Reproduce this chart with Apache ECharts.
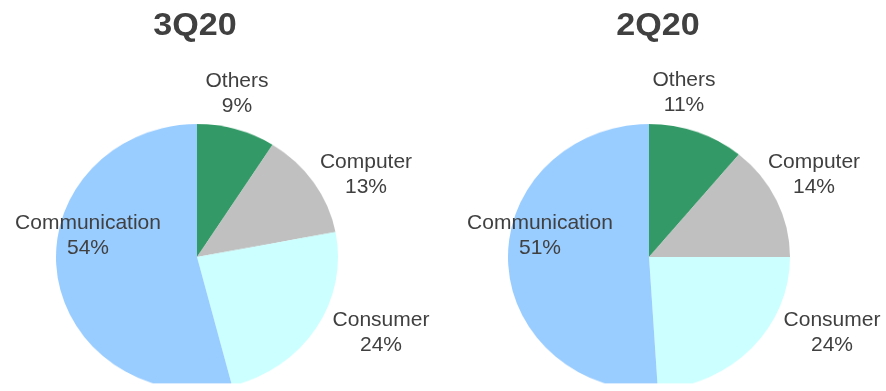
<!DOCTYPE html>
<html>
<head>
<meta charset="utf-8">
<script src="https://cdn.jsdelivr.net/npm/echarts@6/dist/echarts.min.js"></script>
<style>
  html, body { margin: 0; padding: 0; background: #ffffff; }
  #wrap { position: relative; width: 886px; height: 391px; overflow: hidden; }
  /* pies are drawn slightly flattened, as ellipses */
  #pies { position: absolute; left: 0; top: 0; width: 886px; height: 391px;
          transform: scaleY(0.943); transform-origin: 0 257px; }
  #texts { position: absolute; left: 0; top: 0; width: 886px; height: 391px; }
</style>
</head>
<body>
<div id="wrap">
  <div id="pies"></div>
  <div id="texts"></div>
</div>
<script>
// Revenue mix by application
const periods = ['3Q20', '2Q20'];
const categories = ['Others', 'Computer', 'Consumer', 'Communication'];
const share3Q20 = [9, 13, 24, 54];
const share2Q20 = [11, 14, 24, 51];

const sliceColors = ['#339966', '#c0c0c0', '#ccffff', '#99ccff'];
const pieCenters = [[197, 257], [649, 257]];
const pieRadius = 141;
const textColor = '#404040';
const fontFamily = '"Liberation Sans", Arial, sans-serif';

// label block centres per pie, in category order
const labelSpots = [
  [[237, 94], [366, 175], [381, 333], [88, 236]],
  [[684, 93], [814, 175], [832, 333], [540, 236]]
];
const titleSpots = [[195, 26], [658, 26]];

const shares = [share3Q20, share2Q20];
const toData = arr => categories.map((name, i) => ({ value: arr[i], name }));

const pieChart = echarts.init(document.getElementById('pies'), null, { renderer: 'canvas' });
pieChart.setOption({
  animation: false,
  color: sliceColors,
  series: shares.map((arr, k) => ({
    type: 'pie',
    center: pieCenters[k],
    radius: pieRadius,
    startAngle: 90,
    clockwise: true,
    silent: true,
    label: { show: false },
    labelLine: { show: false },
    itemStyle: { borderWidth: 0 },
    data: toData(arr)
  }))
});

const textChart = echarts.init(document.getElementById('texts'), null, { renderer: 'canvas' });
textChart.setOption({
  animation: false,
  graphic: periods.map((p, k) => ({
    type: 'text',
    x: titleSpots[k][0],
    y: titleSpots[k][1],
    scaleX: 1.1,
    style: {
      text: p,
      fill: textColor,
      font: 'bold 31px ' + fontFamily,
      textAlign: 'center',
      textVerticalAlign: 'middle'
    }
  })),
  series: shares.map((arr, k) => ({
    type: 'pie',
    center: pieCenters[k],
    radius: pieRadius,
    startAngle: 90,
    silent: true,
    avoidLabelOverlap: false,
    itemStyle: { color: 'rgba(0,0,0,0)' },
    labelLine: { show: false },
    label: {
      show: true,
      position: 'outside',
      formatter: '{b}\n{c}%',
      color: textColor,
      fontFamily: fontFamily,
      fontSize: 21,
      lineHeight: 25,
      align: 'center',
      overflow: 'none',
      width: 200
    },
    labelLayout: params => ({
      x: labelSpots[k][params.dataIndex][0],
      y: labelSpots[k][params.dataIndex][1],
      align: 'center',
      verticalAlign: 'middle',
      hideOverlap: false,
      moveOverlap: null
    }),
    data: toData(arr)
  }))
});
</script>
</body>
</html>
